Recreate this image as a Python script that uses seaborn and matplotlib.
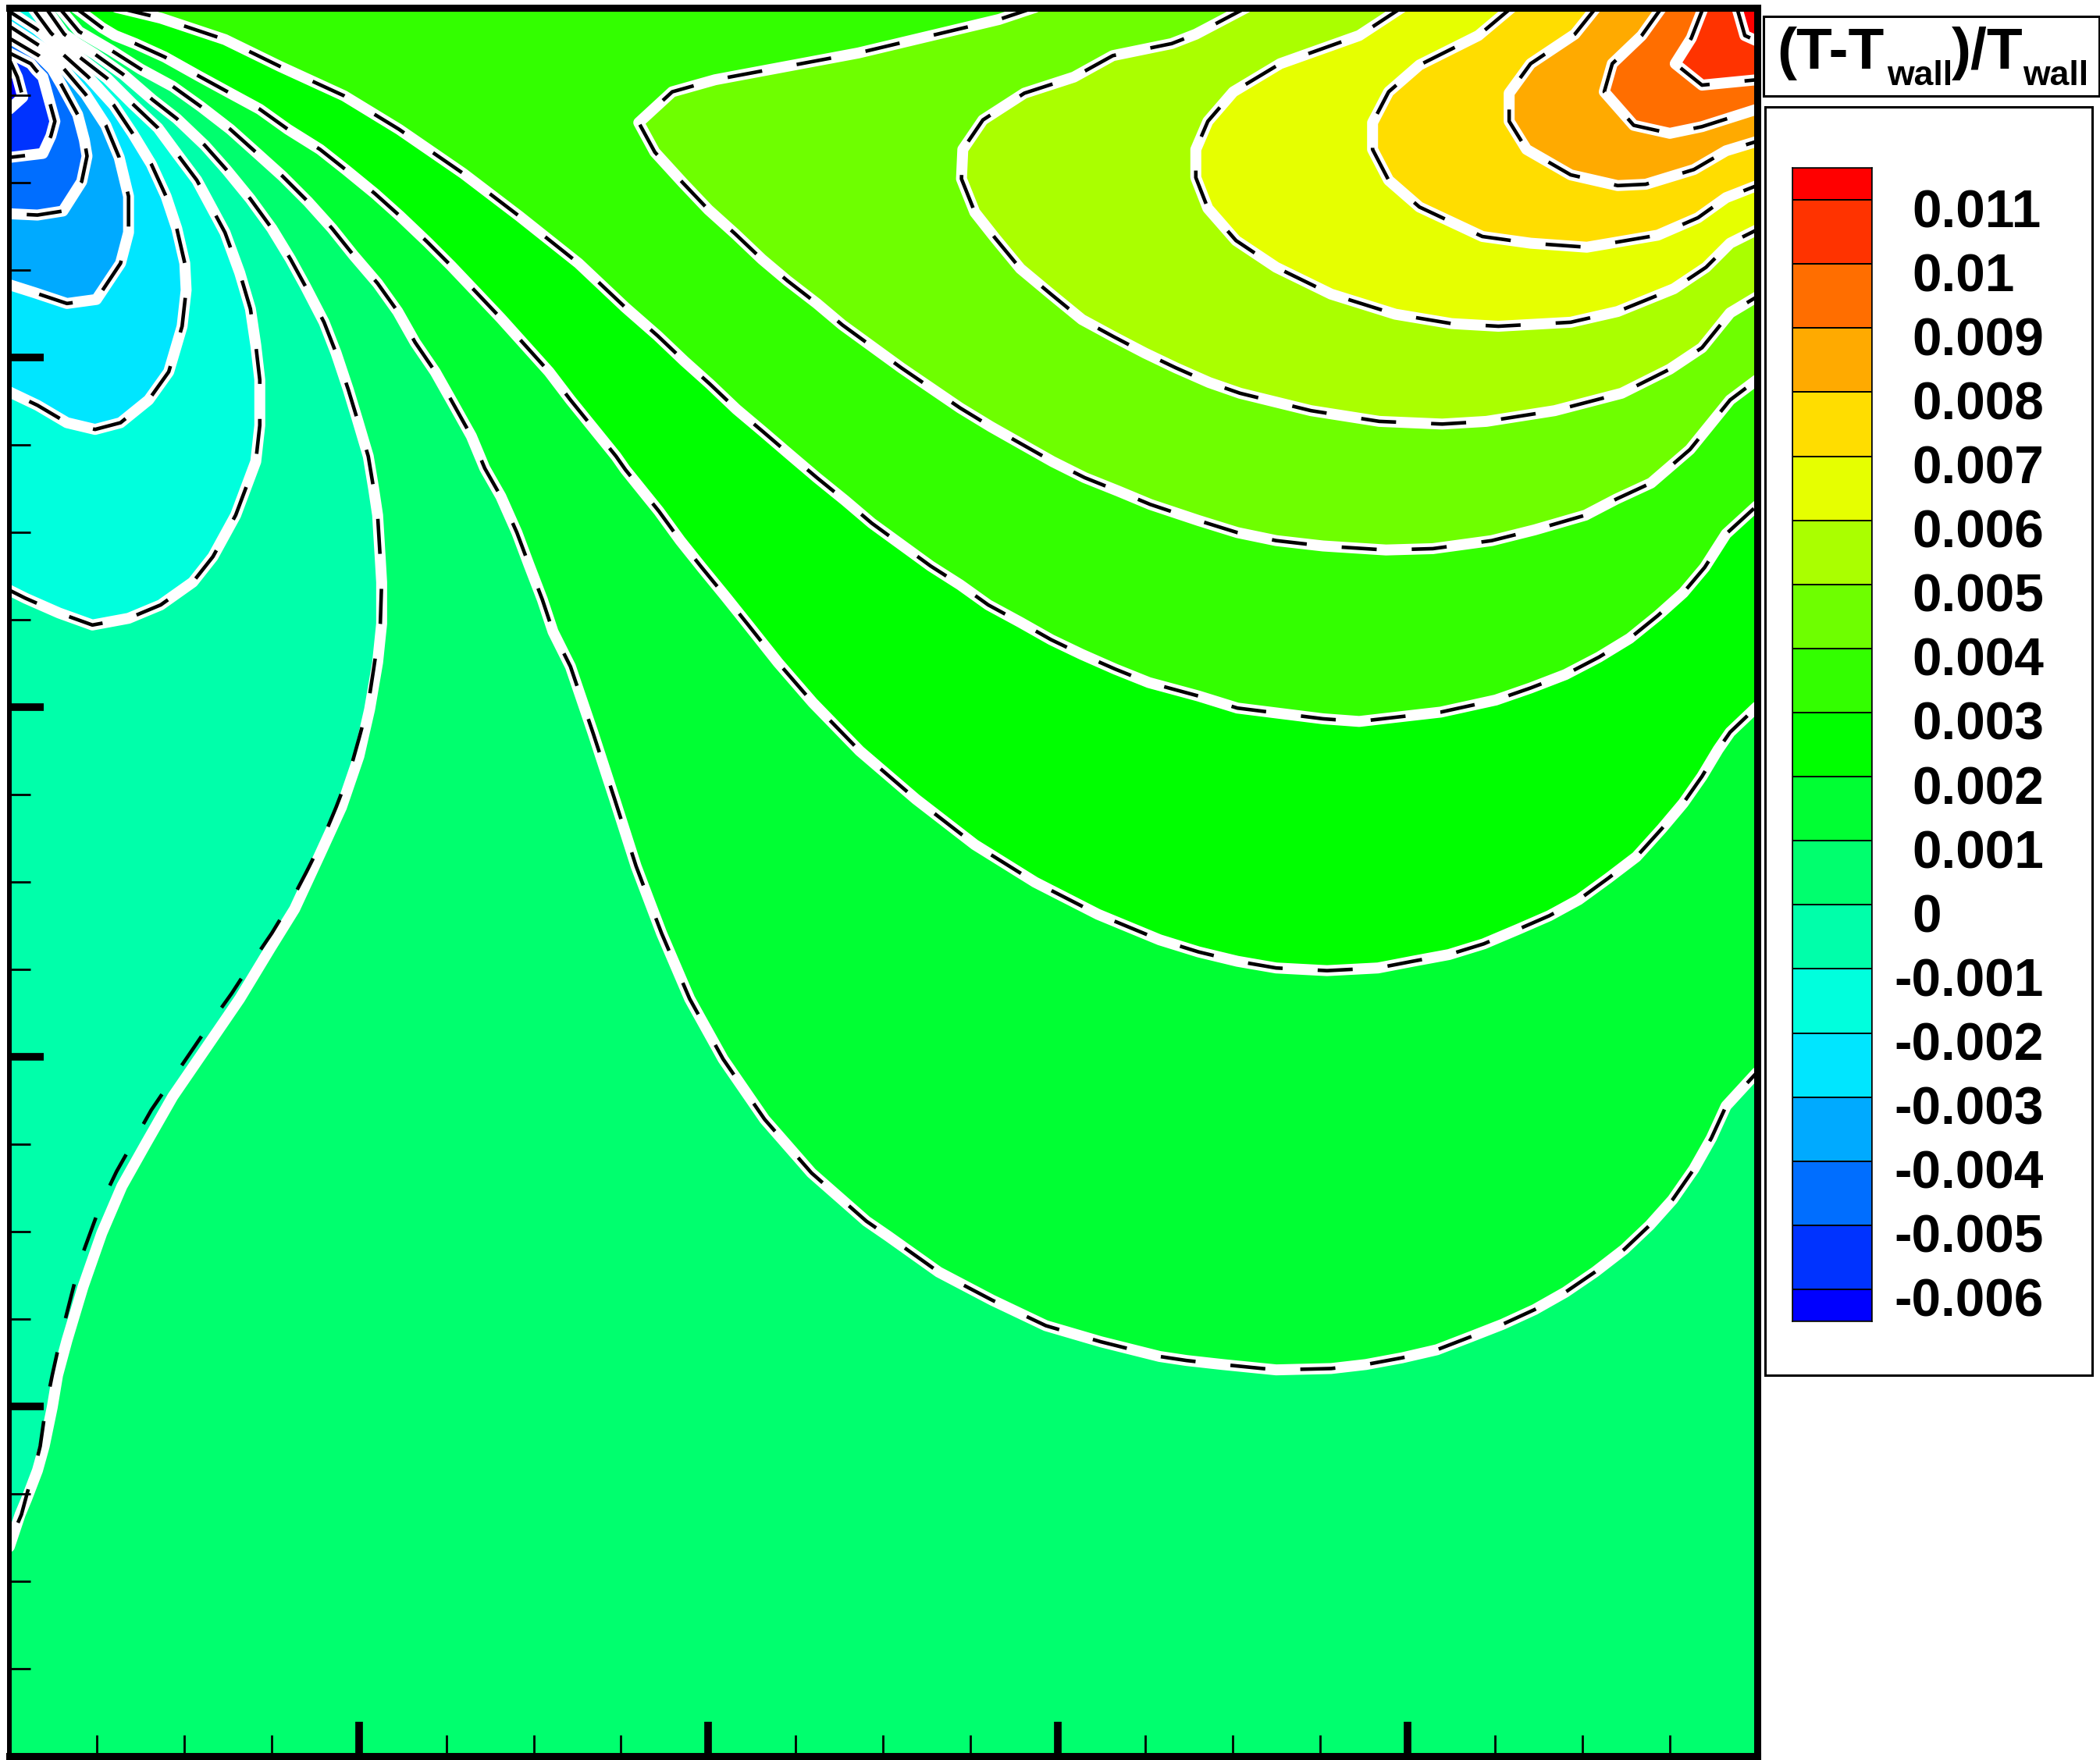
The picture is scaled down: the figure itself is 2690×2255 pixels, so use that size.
# Temperature deviation map: filled bands and dashed isotherms
import numpy as np
import pandas as pd
import matplotlib
matplotlib.use('Agg')
import matplotlib.pyplot as plt
from matplotlib.colors import ListedColormap
from matplotlib.patches import Rectangle
import seaborn as sns

sns.set_theme(style='ticks')
plt.rcParams['font.family'] = ['Liberation Sans', 'DejaVu Sans']
plt.rcParams['text.color'] = 'black'

# ============================================
# DATA: isotherms (side of the square = 1305 units)
# ============================================
side = 1305

m006_x = [0, 6, 10, 0]
m006_y = [1266, 1253, 1238, 1229]
m005_x = [0, 16, 20, 25, 31, 34, 31, 25, 0]
m005_y = [1271, 1263, 1258, 1253, 1231, 1220, 1209, 1196, 1193]
m004_x = [0, 22, 32, 39, 51, 56, 58, 54, 40, 21, 0]
m004_y = [1282, 1269, 1259, 1247, 1225, 1206, 1194, 1175, 1153, 1150, 1151]
m003_x = [0, 20, 31, 40, 57, 72, 82, 89, 89, 83, 65, 43, 19, 0]
m003_y = [1291, 1278, 1271, 1260, 1240, 1217, 1193, 1164, 1137, 1114, 1087, 1084, 1092, 1098]
m002_x = [0, 20, 31, 40, 59, 78, 92, 106, 117, 125, 131, 132, 129, 119, 104, 83, 64, 43, 21, 0]
m002_y = [1302, 1289, 1280, 1270, 1253, 1232, 1211, 1188, 1164, 1140, 1114, 1094, 1067, 1033,
          1012, 995, 990, 995, 1008, 1018]
m001_x = [17, 31, 39, 51, 73, 92, 111, 125, 140, 161, 172, 180, 184, 187, 187, 184, 169, 152,
          137, 113, 89, 62, 37, 12, 0]
m001_y = [1305, 1286, 1278, 1269, 1252, 1233, 1215, 1196, 1176, 1137, 1107, 1080, 1053, 1027,
          993, 966, 926, 895, 876, 859, 849, 844, 853, 864, 870]
p000_x = [27, 41, 51, 64, 85, 107, 125, 146, 162, 180, 196, 210, 221, 235, 244, 253, 260, 268,
          272, 275, 277, 278, 278, 278, 275, 269, 261, 248, 232, 213, 195, 172, 146, 122, 102,
          84, 69, 55, 43, 36, 32, 26, 21, 13, 8, 0]
p000_y = [1305, 1285, 1278, 1270, 1255, 1236, 1222, 1202, 1184, 1162, 1140, 1117, 1097, 1070,
          1047, 1020, 997, 970, 946, 926, 893, 876, 860, 845, 816, 781, 746, 708, 673, 632, 603,
          565, 527, 492, 457, 425, 390, 350, 310, 284, 260, 231, 213, 192, 180, 156]
# the dashes of this line run beside its white band on the lower part
p000_dash_x = [27, 41, 51, 64, 85, 107, 125, 146, 162, 180, 196, 210, 221, 235, 244, 253, 260,
               268, 272, 275, 277, 278, 277, 272, 268, 261, 254, 244, 234, 222, 210, 196, 181,
               166, 151, 136, 121, 106, 93, 80, 68, 53, 38, 32, 27, 23, 20, 16, 9, 3]
p000_dash_y = [1305, 1285, 1278, 1270, 1255, 1236, 1222, 1202, 1184, 1162, 1140, 1117, 1097,
               1070, 1047, 1020, 997, 970, 946, 926, 893, 876, 845, 811, 785, 759, 734, 708, 684,
               660, 637, 614, 592, 569, 548, 526, 504, 482, 459, 436, 411, 370, 311, 284, 259,
               231, 219, 206, 180, 166]
p001_x = [37, 52, 64, 76, 98, 122, 143, 165, 184, 204, 223, 241, 257, 275, 290, 303, 318, 331,
          345, 355, 367, 379, 388, 398, 406, 419, 436, 452, 468, 487, 508, 533, 564, 599, 640,
          656, 694, 734, 774, 815, 859, 879, 906, 946, 987, 1013, 1040, 1066, 1092, 1115, 1139,
          1162, 1184, 1206, 1225, 1242, 1258, 1271, 1282, 1305]
p001_y = [1305, 1287, 1280, 1273, 1259, 1246, 1231, 1214, 1197, 1179, 1160, 1140, 1120, 1099,
          1078, 1055, 1033, 1010, 985, 961, 940, 913, 889, 863, 839, 813, 763, 714, 664, 614,
          565, 520, 475, 435, 399, 388, 361, 340, 321, 309, 298, 295, 292, 288, 289, 292, 297,
          303, 313, 322, 333, 346, 361, 378, 396, 415, 438, 461, 485, 510]
p002_x = [49, 69, 79, 94, 116, 141, 163, 187, 208, 232, 251, 273, 292, 312, 330, 349, 367, 385,
          403, 419, 436, 453, 460, 485, 501, 517, 535, 551, 574, 600, 635, 677, 721, 766, 813,
          859, 888, 917, 946, 984, 1022, 1048, 1075, 1101, 1127, 1150, 1172, 1194, 1215, 1234,
          1250, 1264, 1276, 1285, 1305]
p002_y = [1305, 1290, 1284, 1278, 1268, 1254, 1242, 1229, 1214, 1199, 1184, 1166, 1149, 1130,
          1112, 1092, 1073, 1053, 1033, 1012, 991, 970, 960, 929, 907, 887, 865, 845, 816, 786,
          750, 714, 680, 652, 628, 609, 600, 593, 588, 586, 588, 593, 598, 606, 617, 627, 639,
          655, 671, 692, 711, 731, 751, 764, 783]
p003_x = [80, 113, 161, 202, 250, 291, 339, 381, 425, 460, 484, 504, 523, 543, 562, 583, 603,
          624, 644, 666, 688, 710, 731, 755, 778, 801, 826, 851, 888, 917, 949, 981, 1008, 1034,
          1069, 1110, 1136, 1162, 1187, 1210, 1231, 1250, 1266, 1282, 1305]
p003_y = [1305, 1297, 1281, 1261, 1239, 1214, 1181, 1149, 1114, 1081, 1060, 1041, 1024, 1005,
          989, 971, 954, 937, 920, 904, 888, 874, 859, 846, 833, 822, 811, 801, 791, 782, 778,
          774, 772, 775, 779, 788, 797, 807, 820, 834, 851, 868, 887, 912, 933]
p004_x = [766, 739, 634, 527, 495, 470, 482, 503, 522, 542, 562, 581, 603, 622, 644, 666, 688,
          710, 733, 756, 779, 803, 828, 852, 888, 917, 946, 981, 1028, 1063, 1107, 1139, 1177,
          1200, 1226, 1255, 1285, 1305]
p004_y = [1305, 1296, 1271, 1251, 1242, 1219, 1197, 1174, 1154, 1136, 1117, 1101, 1084, 1068,
          1052, 1036, 1021, 1006, 992, 979, 966, 954, 944, 934, 922, 913, 907, 903, 900, 901,
          907, 915, 926, 938, 950, 975, 1012, 1027]
p005_x = [924, 886, 868, 824, 795, 758, 727, 712, 711, 721, 736, 755, 779, 801, 825, 848, 871,
          896, 919, 972, 1023, 1070, 1103, 1154, 1204, 1240, 1264, 1285, 1305]
p005_y = [1305, 1285, 1278, 1269, 1253, 1241, 1221, 1199, 1177, 1152, 1133, 1110, 1090, 1072,
          1059, 1047, 1036, 1025, 1017, 1004, 996, 994, 996, 1004, 1017, 1035, 1051, 1077, 1089]
p006_x = [1040, 1008, 949, 914, 895, 886, 886, 895, 916, 946, 987, 1035, 1077, 1112, 1166, 1201,
          1243, 1267, 1285, 1305]
p006_y = [1305, 1284, 1263, 1242, 1220, 1199, 1178, 1155, 1131, 1111, 1091, 1076, 1069, 1067,
          1070, 1078, 1095, 1111, 1129, 1139]
p007_x = [1122, 1097, 1053, 1030, 1018, 1018, 1030, 1053, 1100, 1136, 1178, 1231, 1261, 1282, 1305]
p007_y = [1305, 1284, 1262, 1242, 1219, 1199, 1176, 1156, 1134, 1129, 1126, 1135, 1148, 1163, 1172]
p008_x = [1185, 1169, 1136, 1120, 1120, 1133, 1166, 1201, 1222, 1258, 1282, 1305]
p008_y = [1305, 1285, 1263, 1241, 1220, 1199, 1180, 1172, 1173, 1184, 1198, 1205]
p009_x = [1234, 1219, 1197, 1191, 1213, 1240, 1264, 1305]
p009_y = [1305, 1284, 1263, 1242, 1217, 1211, 1216, 1229]
p010_x = [1265, 1256, 1244, 1264, 1305]
p010_y = [1305, 1282, 1263, 1247, 1251]
p011_x = [1290, 1296, 1305]
p011_y = [1305, 1284, 1280]

# colour of the region behind each isotherm (towards its corner)
base_color = '#00FF6E'
cold_lines = [
    (p000_x, p000_y, '#00FFAA'), (m001_x, m001_y, '#00FFDD'), (m002_x, m002_y, '#00E6FF'),
    (m003_x, m003_y, '#00AAFF'), (m004_x, m004_y, '#006EFF'), (m005_x, m005_y, '#0033FF'),
    (m006_x, m006_y, '#0000FF')]
hot_lines = [
    (p001_x, p001_y, '#00FF33'), (p002_x, p002_y, '#00FF00'), (p003_x, p003_y, '#33FF00'),
    (p004_x, p004_y, '#6EFF00'), (p005_x, p005_y, '#AAFF00'), (p006_x, p006_y, '#E6FF00'),
    (p007_x, p007_y, '#FFDD00'), (p008_x, p008_y, '#FFAA00'), (p009_x, p009_y, '#FF6E00'),
    (p010_x, p010_y, '#FF3300'), (p011_x, p011_y, '#FF0000')]
dash_lines = [(p000_dash_x, p000_dash_y)] + [(x, y) for x, y, _ in cold_lines[1:] + hot_lines]

levels = [-0.006, -0.005, -0.004, -0.003, -0.002, -0.001, 0, 0.001, 0.002, 0.003, 0.004,
          0.005, 0.006, 0.007, 0.008, 0.009, 0.01, 0.011]
level_labels = ['-0.006', '-0.005', '-0.004', '-0.003', '-0.002', '-0.001', '0', '0.001', '0.002',
                '0.003', '0.004', '0.005', '0.006', '0.007', '0.008', '0.009', '0.01', '0.011']
band_colors = ['#0000FF', '#0033FF', '#006EFF', '#00AAFF', '#00E6FF', '#00FFDD', '#00FFAA',
               '#00FF6E', '#00FF33', '#00FF00', '#33FF00', '#6EFF00', '#AAFF00', '#E6FF00',
               '#FFDD00', '#FFAA00', '#FF6E00', '#FF3300', '#FF0000']

# ============================================
# FIGURE
# ============================================
W, H = 2690, 2255
fig = plt.figure(figsize=(W / 100, H / 100), dpi=100, facecolor='white')


def pixel_axes(x0, y0, x1, y1):
    return fig.add_axes([x0 / W, 1 - y1 / H, (x1 - x0) / W, (y1 - y0) / H])


def pixel_box(x0, y0, x1, y1, lw):
    fig.add_artist(Rectangle((x0 / W, 1 - y1 / H), (x1 - x0) / W, (y1 - y0) / H,
                             transform=fig.transFigure, fill=False, edgecolor='black', linewidth=lw))


# main map
ax = pixel_axes(12, 9.5, 2250.5, 2249.5)
ax.set_facecolor(base_color)
ax.set_axisbelow(False)

for xs, ys, c in hot_lines:
    ax.fill(xs + [side], ys + [side], color=c, linewidth=0, zorder=1)
for xs, ys, c in cold_lines:
    ax.fill(xs + [0], ys + [side], color=c, linewidth=0, zorder=1)

for xs, ys, _ in hot_lines + cold_lines:
    sns.lineplot(data=pd.DataFrame({'x': xs, 'y': ys}), x='x', y='y', ax=ax, sort=False,
                 estimator=None, color='white', linewidth=10.1, solid_joinstyle='round',
                 legend=False, zorder=1.7)
for xs, ys in dash_lines:
    sns.lineplot(data=pd.DataFrame({'x': xs, 'y': ys}), x='x', y='y', ax=ax, sort=False,
                 estimator=None, color='black', linewidth=3.3, linestyle=(0, (9.8, 9.8)),
                 dash_capstyle='butt', legend=False, zorder=1.8)

ax.set_xlim(0, side)
ax.set_ylim(0, side)
ax.set_xlabel('')
ax.set_ylabel('')
major = np.arange(1, 5) * side / 5
minor = np.arange(1, 20) * side / 20
ax.set_xticks(major)
ax.set_yticks(major)
ax.set_xticks(minor, minor=True)
ax.set_yticks(minor, minor=True)
ax.tick_params(which='major', direction='in', length=32, width=7, color='black',
               labelbottom=False, labelleft=False)
ax.tick_params(which='minor', direction='in', length=19.5, width=2, color='black')
for name, spine in ax.spines.items():
    spine.set_visible(True)
    spine.set_linewidth(4.3 if name == 'left' else 6.5)
    spine.set_color('black')

# colour scale
pixel_box(2261, 137, 2680, 1762, 2.2)
cax = pixel_axes(2296, 215, 2398, 1693)
edges = [-0.0065] + levels + [0.0115]
cax.pcolormesh([0, 1], edges, np.arange(19).reshape(-1, 1), cmap=ListedColormap(band_colors),
               edgecolors='black', linewidth=1.1)
cax.set_xlim(0, 1)
cax.set_ylim(-0.0065, 0.0115)
cax.set_xticks([])
cax.set_yticks([])
for spine in cax.spines.values():
    spine.set_linewidth(1.1)
    spine.set_color('black')
for lev, lab in zip(levels, level_labels):
    # minus sign hangs to the left of the digit column
    dx = 20.4 if lab.startswith('-') else 36.8
    cax.annotate(lab, xy=(1, lev), xycoords=('axes fraction', 'data'), xytext=(dx, -25.2),
                 textcoords='offset points', ha='left', va='baseline', fontsize=48.7,
                 fontweight='bold', color='black')

# title box
pixel_box(2259, 21, 2689, 123, 2.2)
for x_px, y_px, txt, size in [(2276, 88, '(T-T', 54), (2417, 109, 'wall', 32),
                              (2500, 88, ')/T', 54), (2591, 109, 'wall', 32)]:
    fig.text(x_px / W, 1 - y_px / H, txt, fontsize=size, fontweight='bold', ha='left',
             va='baseline', color='black')

fig.savefig('out.png', dpi=100)
